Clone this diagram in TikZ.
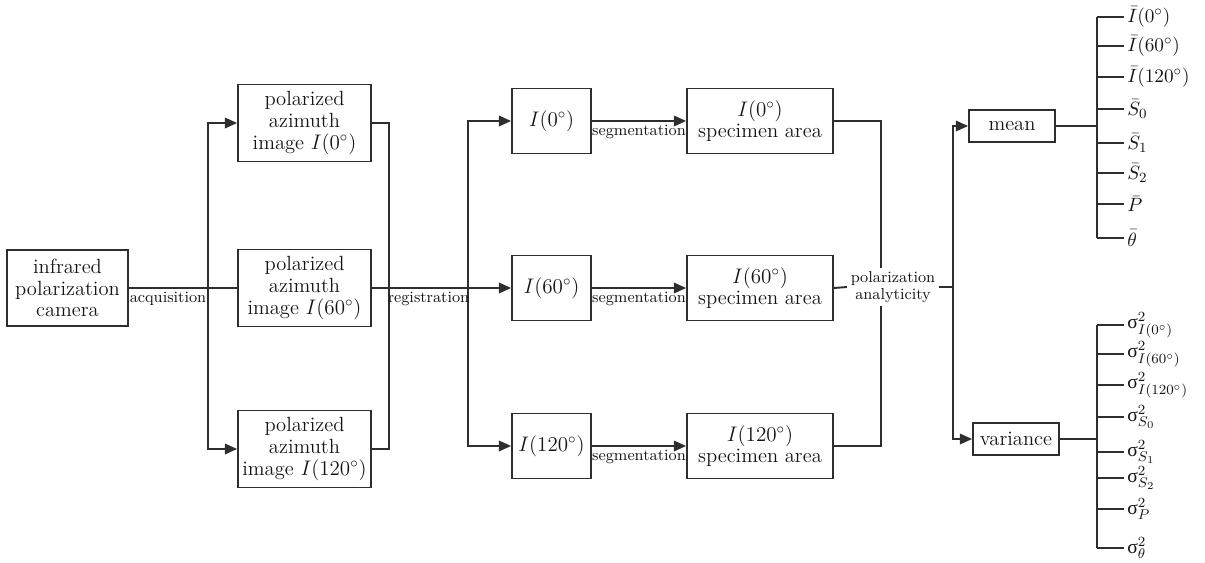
\documentclass[tikz,border=0pt]{standalone}
\usepackage{fontspec}
\newfontfamily\grk{Liberation Serif}
\usetikzlibrary{arrows.meta}
\definecolor{linec}{HTML}{2E2E2E}
\definecolor{ink}{HTML}{151515}
\newcommand\bodyfont{\fontsize{11.7}{12.3}\selectfont}
\newcommand\leaffont{\fontsize{11.2}{12}\selectfont}
\newcommand\smallfont{\fontsize{9}{9.4}\selectfont}
\newcommand\sg{\hbox{\grk σ}}
\tikzset{
  box/.style={draw=linec, line width=1pt, align=center, inner sep=0pt, font=\bodyfont, text=ink},
  conn/.style={draw=linec, line width=1.1pt},
  arr/.style={conn, -{Triangle[length=7pt,width=6pt]}},
  small/.style={font=\smallfont, inner sep=1pt, text=ink, align=center},
  leaf/.style={anchor=west, inner sep=0pt, font=\leaffont, text=ink},
  pbox/.style={box, minimum width=2.66cm, minimum height=1.54cm},
  ibox/.style={box, minimum width=1.58cm, minimum height=1.30cm},
  sbox/.style={box, minimum width=2.92cm, minimum height=1.30cm},
  rbox/.style={box, minimum width=1.72cm, minimum height=0.64cm},
}
\begin{document}
\begin{tikzpicture}[x=0.02cm, y=-0.02cm]
\useasboundingbox (0,0) rectangle (1205,562);

% boxes
\node[box, minimum width=2.42cm, minimum height=1.52cm] (cam) at (67.5,288) {infrared\\polarization\\camera};
\node[pbox] (p0)   at (304.5,123) {polarized\\azimuth\\image $I(0^\circ)$};
\node[pbox] (p60)  at (304.5,288) {polarized\\azimuth\\image $I(60^\circ)$};
\node[pbox] (p120) at (304.5,449) {polarized\\azimuth\\image $I(120^\circ)$};
\node[ibox] (i0)   at (551.5,121) {$I(0^\circ)$};
\node[ibox] (i60)  at (551.5,288) {$I(60^\circ)$};
\node[ibox] (i120) at (551.5,446) {$I(120^\circ)$};
\node[sbox] (s0)   at (760,121) {$I(0^\circ)$\\specimen area};
\node[sbox] (s60)  at (760,288) {$I(60^\circ)$\\specimen area};
\node[sbox] (s120) at (760,446) {$I(120^\circ)$\\specimen area};
\node[rbox] (mean) at (1012,126) {mean};
\node[rbox] (var)  at (1016,439) {variance};

% bus positions
\coordinate (ax) at (208,0);
\coordinate (rx) at (389,0);
\coordinate (gx) at (468,0);
\coordinate (px) at (881,0);
\coordinate (mx) at (953,0);
\coordinate (tx) at (1097,0);

% acquisition
\draw[conn] (cam.east) -- (p60.west);
\draw[arr] (cam.east -| ax) |- (p0.west);
\draw[arr] (cam.east -| ax) |- (p120.west);
\node[small, anchor=north] (acq) at (168,290) {acquisition};

% registration
\draw[conn] (p0.east) -- (p0.east -| rx) -- (p120.east -| rx) -- (p120.east);
\draw[arr] (p60.east) -- (i60.west);
\draw[arr] (p60.east -| gx) |- (i0.west);
\draw[arr] (p60.east -| gx) |- (i120.west);
\node[small, anchor=north] (reg) at (428.5,290) {registration};

% segmentation
\draw[arr] (i0.east) -- (s0.west);
\draw[arr] (i60.east) -- (s60.west);
\draw[arr] (i120.east) -- (s120.west);
\node[small, anchor=north] (sg0)   at (639,123) {segmentation};
\node[small, anchor=north] (sg60)  at (639,290) {segmentation};
\node[small, anchor=north] (sg120) at (639,448) {segmentation};

% polarization analyticity
\node[small, inner sep=2pt] (pa) at (893,287) {polarization\\analyticity};
\draw[conn] (s0.east) -| (pa.north -| px);
\draw[conn] (s120.east) -| (pa.south -| px);
\draw[conn] (s60.east) -- (pa.west);
\draw[conn] (pa.east) -- (pa.east -| mx);
\draw[arr] (pa.east -| mx) |- (mean.west);
\draw[arr] (pa.east -| mx) |- (var.west);

% mean values
\node[leaf] (m1) at (1127,17)  {$\bar I(0^\circ)$};
\node[leaf] (m2) at (1127,46)  {$\bar I(60^\circ)$};
\node[leaf] (m3) at (1127,77)  {$\bar I(120^\circ)$};
\node[leaf] (m4) at (1127,109) {$\bar S_0$};
\node[leaf] (m5) at (1127,143) {$\bar S_1$};
\node[leaf] (m6) at (1127,173) {$\bar S_2$};
\node[leaf] (m7) at (1127,204) {$\bar P$};
\node[leaf] (m8) at (1127,238) {$\bar\theta$};
\draw[conn] (mean.east) -- (mean.east -| tx);
\draw[conn] (m1.west -| tx) -- (m8.west -| tx);
\foreach \n in {m1,m2,m3,m4,m5,m6,m7,m8}
  \draw[conn] (\n.west -| tx) -- ([xshift=-1.5pt]\n.west);

% variances
\node[leaf] (v1) at (1127,325) {$\sg^{2}_{I(0^\circ)}$};
\node[leaf] (v2) at (1127,354) {$\sg^{2}_{I(60^\circ)}$};
\node[leaf] (v3) at (1127,385) {$\sg^{2}_{I(120^\circ)}$};
\node[leaf] (v4) at (1127,417) {$\sg^{2}_{S_0}$};
\node[leaf] (v5) at (1127,452) {$\sg^{2}_{S_1}$};
\node[leaf] (v6) at (1127,478) {$\sg^{2}_{S_2}$};
\node[leaf] (v7) at (1127,509) {$\sg^{2}_{P}$};
\node[leaf] (v8) at (1127,548) {$\sg^{2}_{\theta}$};
\draw[conn] (var.east) -- (var.east -| tx);
\draw[conn] (v1.west -| tx) -- (v8.west -| tx);
\foreach \n in {v1,v2,v3,v4,v5,v6,v7,v8}
  \draw[conn] (\n.west -| tx) -- ([xshift=-1.5pt]\n.west);
\end{tikzpicture}
\end{document}
